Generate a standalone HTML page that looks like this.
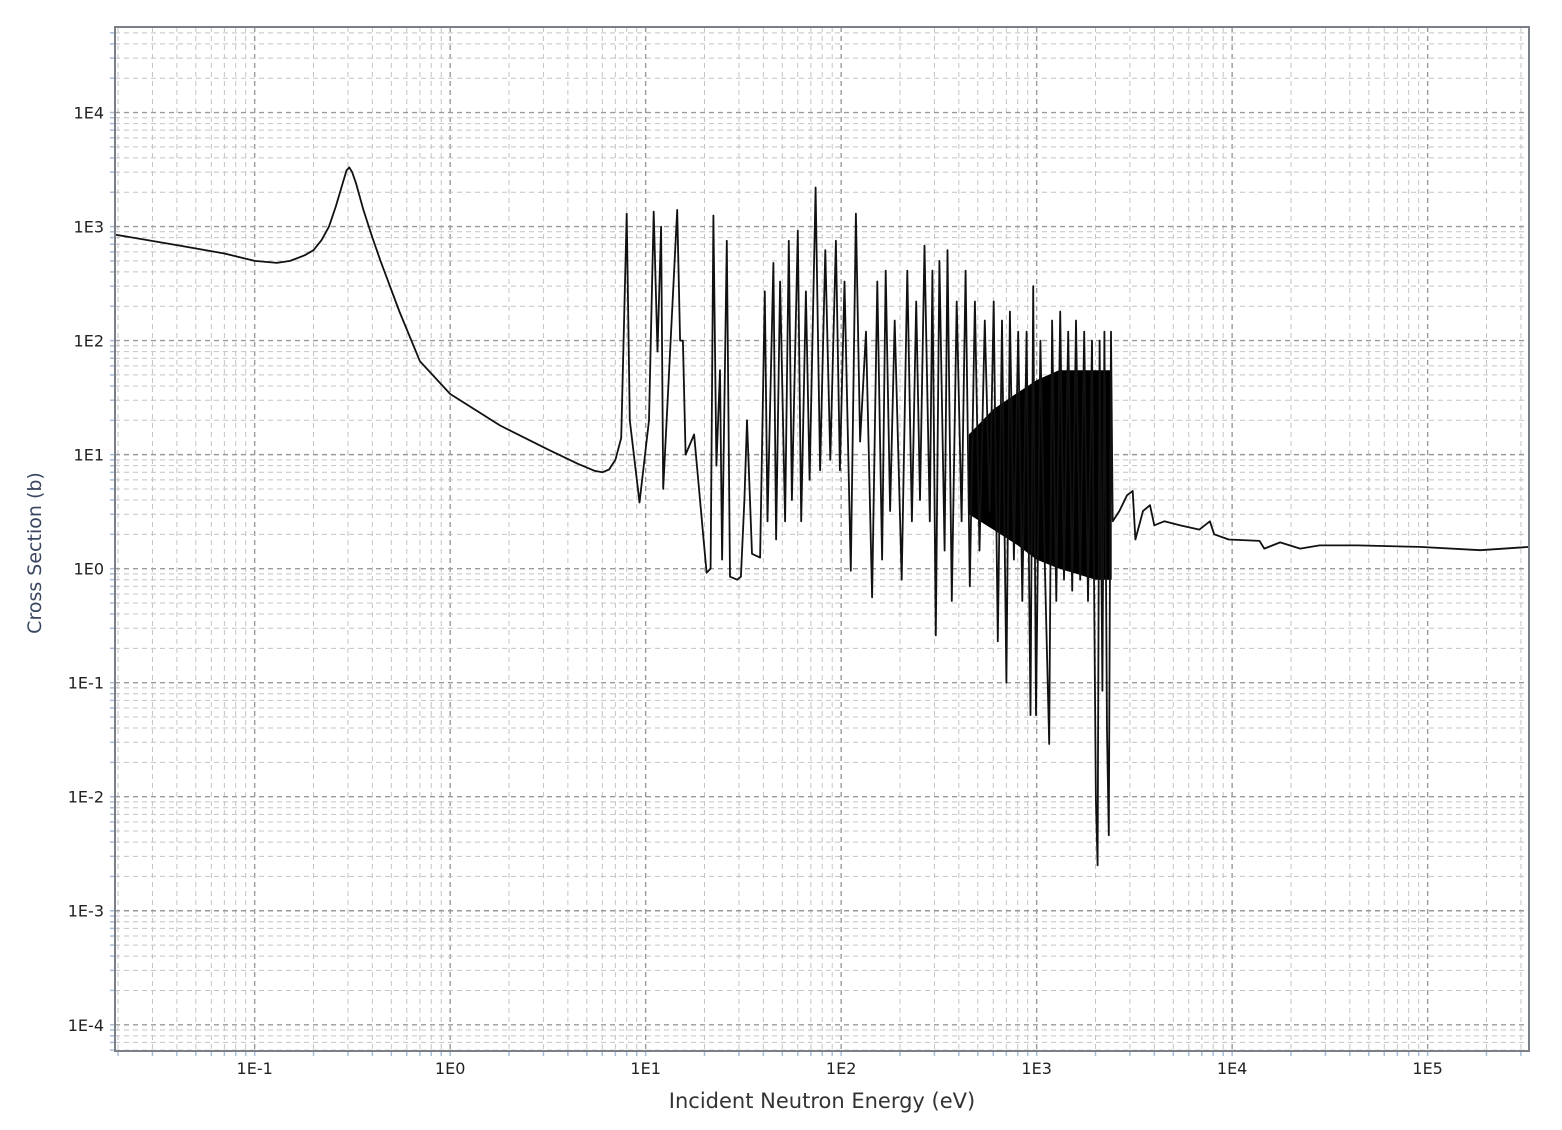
<!DOCTYPE html>
<html><head><meta charset="utf-8"><style>
body{margin:0;background:#fff;}
svg text{font-family:"DejaVu Sans","Liberation Sans",sans-serif;}
</style></head><body>
<svg id="chart" width="1562" height="1125" viewBox="0 0 1562 1125" xmlns="http://www.w3.org/2000/svg">
<rect width="1562" height="1125" fill="#fff"/>
<g id="grid"></g>
<g id="ticks"></g>
<g id="series"></g>
<rect x="115" y="27" width="1414" height="1024" fill="none" stroke="#7a7f88" stroke-width="2"/>
<text x="822" y="1108" font-size="21" fill="#333" text-anchor="middle">Incident Neutron Energy (eV)</text>
<text transform="translate(41,553) rotate(-90)" font-size="19" fill="#3a4660" text-anchor="middle">Cross Section (b)</text>
</svg>
<script>
const xTickLabels=["1E-1","1E0","1E1","1E2","1E3","1E4","1E5"];
const xTickValues=[1e-1,1e0,1e1,1e2,1e3,1e4,1e5];
const yTickLabels=["1E4","1E3","1E2","1E1","1E0","1E-1","1E-2","1E-3","1E-4"];
const yTickValues=[1e4,1e3,1e2,1e1,1e0,1e-1,1e-2,1e-3,1e-4];
const energy=[0.0193,0.0417,0.07,0.1,0.13,0.152,0.18,0.2,0.22,0.24,0.26,0.28,0.295,0.305,0.315,0.33,0.36,0.40,0.44,0.55,0.70,1.0,1.8,3.2,4.5,5.5,6.0,6.5,7.0,7.5,
8.0,8.3,9.3,10.4,11.0,11.5,12.0,12.3,14.5,15.0,15.5,16.0,17.7,20.5,21.5,22.2,23,24,24.6,26,27,29.4,30.7,32,33,35,38.5,40.7,42,45,46.5,48.7,51.7,54,56,60,62.5,66,69,74,78,83,88,94,98.5,104,112,119,125,134,144,153,162,169,178,188,204,218,230,242,253,267,284,293,305,318,338,350,368,390,413,433,455,483,510,543,575,603,633,665,700,730,765,805,845,888,930,960,992,1045,1100,1160,1200,1260,1320,1380,1450,1520,1590,1670,1750,1830,1920,2010,2050,2100,2170,2220,2290,2340,2400,2450,2650,2900,3100,3200,3500,3800,4000,4500,5400,6800,7700,8100,9600,13800,14600,17600,22300,28000,44000,91000,186000,330000];
const sigma=[850,680,580,500,480,500,560,620,760,1000,1500,2300,3100,3300,3000,2400,1400,800,500,180,66,34,18,11,8.3,7.2,7.0,7.4,9,14,
1300,20,3.8,20,1350,80,1000,5,1400,100,100,10,15,0.92,1.0,1250,8,55,1.2,750,0.85,0.8,0.85,4,20,1.35,1.25,270,2.6,480,1.8,330,2.6,750,4,920,2.6,270,6,2200,7.3,620,9,750,7.3,330,0.96,1300,13,120,0.56,330,1.2,410,3.2,150,0.8,410,2.6,220,4,680,2.6,410,0.26,500,1.44,620,0.52,220,2.6,410,0.7,220,1.44,150,3.2,220,0.23,150,0.1,180,1.2,120,0.52,120,0.052,300,0.052,100,1.2,0.029,150,0.52,180,0.8,120,0.64,150,0.8,120,0.52,100,0.0093,0.0025,100,0.085,120,0.038,0.0046,120,2.6,3.2,4.4,4.8,1.8,3.2,3.6,2.4,2.6,2.4,2.2,2.6,2.0,1.8,1.75,1.5,1.7,1.5,1.6,1.6,1.55,1.45,1.55];
const bandE=[450,600,800,1000,1300,1600,2000,2420];
const bandHi=[15,25,35,45,55,55,55,55];
const bandLo=[3.0,2.2,1.6,1.2,1.0,0.9,0.8,0.8];

const L=115,R=1529,T=27,B=1051;
const xmin=Math.log10(0.0193),xmax=Math.log10(330000);
const ymin=-4.23,ymax=4.75;
function xs(v){return L+(Math.log10(v)-xmin)/(xmax-xmin)*(R-L);}
function ys(v){return B-(Math.log10(v)-ymin)/(ymax-ymin)*(B-T);}
const NS="http://www.w3.org/2000/svg";
function mk(tag,attrs,parent){const e=document.createElementNS(NS,tag);for(const k in attrs)e.setAttribute(k,attrs[k]);parent.appendChild(e);return e;}
const grid=document.getElementById('grid'),ticks=document.getElementById('ticks'),series=document.getElementById('series');
for(let d=-2;d<=5;d++){for(let m=1;m<=9;m++){const v=m*Math.pow(10,d);if(v<0.0193||v>330000)continue;const x=xs(v);
const g=mk('line',{x1:x,x2:x,y1:T,y2:B,stroke:m===1?'#9a9a9a':'#c4c4c4','stroke-width':m===1?1.4:1,'stroke-dasharray':'5,4'},grid);


const t=mk('line',{x1:x,x2:x,y1:B,y2:B+5,stroke:'#a8bcd8','stroke-width':1.5},ticks);

}}
for(let d=-5;d<=4;d++){for(let m=1;m<=9;m++){const v=m*Math.pow(10,d);const ly=Math.log10(v);if(ly<ymin||ly>ymax)continue;const y=ys(v);
const g=mk('line',{x1:L,x2:R,y1:y,y2:y,stroke:m===1?'#9a9a9a':'#c4c4c4','stroke-width':m===1?1.4:1,'stroke-dasharray':'5,4'},grid);


const t=mk('line',{x1:L-5,x2:L,y1:y,y2:y,stroke:'#a8bcd8','stroke-width':1.5},ticks);

}}
xTickValues.forEach((v,i)=>{const t=mk('text',{x:xs(v),y:1074,'font-size':16,fill:'#222','text-anchor':'middle'},ticks);t.textContent=xTickLabels[i];

});
yTickValues.forEach((v,i)=>{const t=mk('text',{x:104,y:ys(v)+6,'font-size':16,fill:'#222','text-anchor':'end'},ticks);t.textContent=yTickLabels[i];

});
let bp=bandE.map((e,i)=>xs(e)+','+ys(bandHi[i])).join(' ')+' '+bandE.map((e,i)=>xs(e)+','+ys(bandLo[i])).reverse().join(' ');
const band=mk('polygon',{points:bp,fill:'#000'},series);


const pts=energy.map((e,i)=>xs(e).toFixed(1)+','+ys(sigma[i]).toFixed(1)).join(' ');
const line=mk('polyline',{points:pts,fill:'none',stroke:'#111','stroke-width':1.8,'stroke-linejoin':'round'},series);


</script>
</body></html>
